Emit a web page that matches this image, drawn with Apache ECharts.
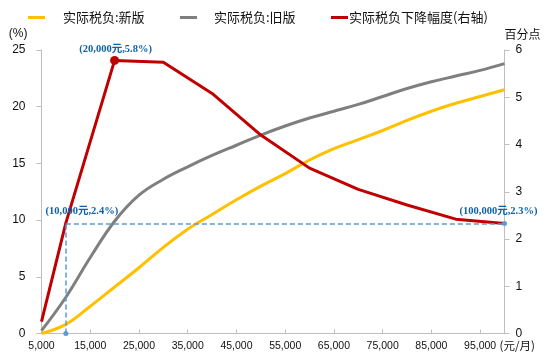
<!DOCTYPE html>
<html><head><meta charset="utf-8">
<script src="https://cdn.jsdelivr.net/npm/echarts@6/dist/echarts.min.js"></script>
<style>html,body{margin:0;padding:0;background:#fff}#c{width:549px;height:359px}</style>
</head><body><div id="c"></div>
<script>
// ---- data ----
const seriesNames = ['实际税负:新版', '实际税负:旧版', '实际税负下降幅度(右轴)'];
const incomeGrid = [5000,10000,15000,20000,25000,30000,35000,40000,45000,50000,55000,60000,65000,70000,75000,80000,85000,90000,95000,100000];
const newRate = [0.0,0.8,2.4,4.1,5.8,7.6,9.2,10.5,11.8,13.0,14.1,15.3,16.3,17.1,17.9,18.8,19.6,20.3,20.9,21.5];
const oldRate = [0.25,3.2,6.7,9.9,12.2,13.6,14.7,15.7,16.6,17.5,18.3,19.0,19.6,20.2,20.9,21.6,22.2,22.7,23.2,23.8];
const dropIncome = [5000,10000,20000,30000,40000,50000,60000,70000,80000,90000,100000];
const dropValue = [0.25,2.34,5.78,5.74,5.08,4.2,3.5,3.05,2.72,2.42,2.33];
const xTickLabels = [5000,15000,25000,35000,45000,55000,65000,75000,85000,95000];
const xTickMarks = [15000,25000,35000,45000,55000,65000,75000,85000,95000];
const annotIncome = [10000, 20000, 100000];
const annotValue = [2.33, 5.78, 2.33];
const annotText = ['(10,000元,2.4%)', '(20,000元,5.8%)', '(100,000元,2.3%)'];
const leftAxisName = '(%)', rightAxisName = '百分点', xAxisName = '(元/月)';

const pair = (xs, ys) => xs.map((x, i) => [x, ys[i]]);
const fmt = v => String(v).replace(/\B(?=(\d{3})+(?!\d))/g, ',');
const cjk = '"Noto Sans CJK SC", sans-serif';
const num = '"Liberation Sans", Arial, sans-serif';
const annFont = {color: '#0f62a8', fontSize: 10.5, fontWeight: 'bold', fontFamily: '"Liberation Serif", "Noto Sans CJK SC", serif'};
const blue = '#5b9bd5';

const chart = echarts.init(document.getElementById('c'), null, {renderer: 'canvas'});
const legendBase = (name, left, pad) => ({
  data: [name], left: left, top: 6, icon: 'rect', itemWidth: 17, itemHeight: 3,
  textStyle: {fontFamily: cjk, fontSize: 13, color: '#111', padding: [0, 0, 0, pad]},
  selectedMode: false
});
chart.setOption({
  animation: false,
  backgroundColor: '#fff',
  legend: [legendBase(seriesNames[0], 23, 13), legendBase(seriesNames[1], 175, 12), legendBase(seriesNames[2], 326, -4)],
  grid: {left: 41.5, right: 44.5, top: 50, bottom: 25.5, containLabel: false, outerBoundsMode: 'none'},
  xAxis: {
    type: 'value', min: 5000, max: 100000,
    name: xAxisName, nameLocation: 'end', nameGap: -5, nameMoveOverlap: false,
    nameTextStyle: {fontFamily: cjk, fontSize: 11.5, color: '#111', align: 'left', verticalAlign: 'top', padding: [6, 0, 0, 0]},
    axisLine: {lineStyle: {color: '#bfbfbf', width: 1}},
    axisTick: {show: true, inside: true, length: 4, customValues: xTickMarks, lineStyle: {color: '#bfbfbf'}},
    axisLabel: {customValues: xTickLabels, formatter: v => fmt(v), fontFamily: num, fontSize: 10.5, color: '#111', margin: 7},
    splitLine: {show: false}
  },
  yAxis: [{
    type: 'value', min: 0, max: 25, interval: 5,
    name: leftAxisName, nameLocation: 'end', nameGap: 10, nameMoveOverlap: false,
    nameTextStyle: {fontFamily: num, fontSize: 12, color: '#111', align: 'right', padding: [0, 14, 0, 0]},
    axisLine: {show: true, lineStyle: {color: '#bfbfbf'}},
    axisTick: {show: true, length: 5, lineStyle: {color: '#bfbfbf'}},
    axisLabel: {fontFamily: num, fontSize: 12, color: '#111', margin: 16},
    splitLine: {show: false}
  }, {
    type: 'value', min: 0, max: 6, interval: 1,
    name: rightAxisName, nameLocation: 'end', nameGap: 10, nameMoveOverlap: false,
    nameTextStyle: {fontFamily: cjk, fontSize: 12, color: '#111', align: 'left', padding: [0, 0, 0, 0]},
    axisLine: {show: true, lineStyle: {color: '#bfbfbf'}},
    axisTick: {show: true, length: 5, lineStyle: {color: '#bfbfbf'}},
    axisLabel: {fontFamily: num, fontSize: 12, color: '#111', margin: 11},
    splitLine: {show: false}
  }],
  series: [{
    name: seriesNames[0], type: 'line', smooth: 0.4, showSymbol: false, symbol: 'none',
    data: pair(incomeGrid, newRate), yAxisIndex: 0,
    lineStyle: {color: '#ffc000', width: 3}, itemStyle: {color: '#ffc000'}, z: 2
  }, {
    name: seriesNames[1], type: 'line', smooth: 0.4, showSymbol: false, symbol: 'none',
    data: pair(incomeGrid, oldRate), yAxisIndex: 0,
    lineStyle: {color: '#7f7f7f', width: 3}, itemStyle: {color: '#7f7f7f'}, z: 2
  }, {
    name: seriesNames[2], type: 'line', smooth: false, showSymbol: false, symbol: 'none',
    data: pair(dropIncome, dropValue), yAxisIndex: 1,
    lineStyle: {color: '#c00000', width: 3}, itemStyle: {color: '#c00000'}, z: 3,
    markLine: {
      silent: true, symbol: ['none', 'none'], label: {show: false},
      lineStyle: {color: blue, type: [5, 3], width: 1.5},
      data: [
        [{coord: [annotIncome[0], 0]}, {coord: [annotIncome[0], annotValue[0]]}],
        [{coord: [annotIncome[0], annotValue[0]]}, {coord: [annotIncome[2], annotValue[2]]}]
      ]
    },
    markPoint: {
      silent: true,
      data: [
        {coord: [annotIncome[0], 0], symbol: 'circle', symbolSize: 5, itemStyle: {color: blue}, label: {show: false}},
        {coord: [annotIncome[2], annotValue[2]], symbol: 'circle', symbolSize: 5, itemStyle: {color: blue},
          label: {show: true, formatter: annotText[2], position: 'inside', offset: [-6, -12], ...annFont}},
        {coord: [annotIncome[0], annotValue[0]], symbol: 'circle', symbolSize: 0,
          label: {show: true, formatter: annotText[0], position: 'inside', offset: [16, -12], ...annFont}},
        {coord: [annotIncome[1], annotValue[1]], symbol: 'circle', symbolSize: 9, itemStyle: {color: '#c00000'},
          label: {show: true, formatter: annotText[1], position: 'inside', offset: [1, -11], ...annFont}}
      ]
    }
  }]
});
</script></body></html>
